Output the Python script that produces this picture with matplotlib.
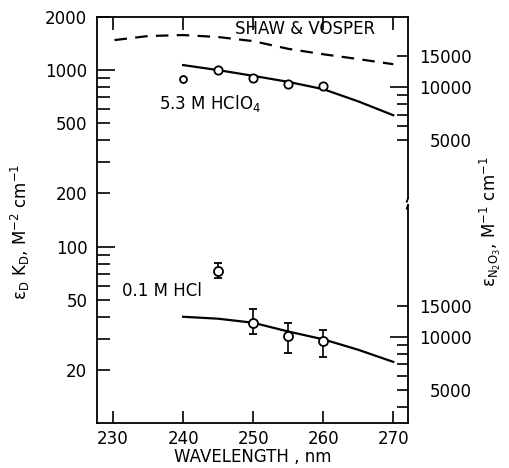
import matplotlib
matplotlib.use("Agg")
import matplotlib.pyplot as plt
from matplotlib.ticker import FixedLocator, FixedFormatter

plt.rcParams['font.family'] = ['DejaVu Sans']
plt.rcParams['mathtext.default'] = 'regular'
plt.rcParams['lines.scale_dashes'] = False

# ---- data ----
shaw_wl = [230.2, 235, 240, 245, 250, 255, 260, 265, 270]
shaw_val = [1480, 1560, 1580, 1540, 1460, 1320, 1230, 1155, 1080]

hclo4_fit_wl = [240, 245, 250, 255, 260, 265, 270]
hclo4_fit_val = [1068, 1000, 928, 858, 780, 665, 555]
hclo4_pt_wl = [245, 250, 255, 260]
hclo4_pt_val = [1000, 900, 835, 810]
hclo4_extra_wl = [240]
hclo4_extra_val = [890]

hcl_fit_wl = [240, 245, 250, 255, 260, 265, 270]
hcl_fit_val = [40.0, 39.0, 37.0, 33.0, 29.8, 26.0, 22.2]
hcl_pt_wl = [245, 250, 255, 260]
hcl_pt_val = [73, 37, 31, 29.2]
hcl_err_lo = [66, 32, 25, 23.7]
hcl_err_hi = [81, 44, 37, 33.8]

x_ticks = [230, 240, 250, 260, 270]
left_major = [100, 1000]
left_minor = [20, 30, 40, 50, 60, 70, 80, 90, 200, 300, 400, 500, 600, 700, 800, 900, 2000]
left_minor_labels = {20: '20', 50: '50', 200: '200', 500: '500', 2000: '2000'}

upper_factor = 12.5
lower_factor = 325.0
upper_major = [10000]
upper_minor = [5000, 6000, 7000, 8000, 9000, 15000]
lower_major = [10000]
lower_minor = [4000, 5000, 6000, 7000, 8000, 9000, 15000]
right_minor_labels = {5000: '5000', 15000: '15000'}

fs = 12
fig = plt.figure(figsize=(5.09, 4.68), dpi=100)
ax = fig.add_axes([97/509, 1-423/468, (408-97)/509, (423-17)/468])
ax.set_yscale('log')
ax.set_xlim(227.7, 272.1)
ax.set_ylim(10, 2000)

lw = 1.6
ax.plot(shaw_wl, shaw_val, color='black', lw=lw, dashes=(9, 6))
ax.plot(hclo4_fit_wl, hclo4_fit_val, color='black', lw=lw)
ax.plot(hclo4_pt_wl, hclo4_pt_val, 'o', mfc='white', mec='black', ms=6, mew=1.3)
ax.plot(hclo4_extra_wl, hclo4_extra_val, 'o', mfc='white', mec='black', ms=5, mew=1.3)
ax.plot(hcl_fit_wl, hcl_fit_val, color='black', lw=lw)
yerr = [[v - lo for v, lo in zip(hcl_pt_val, hcl_err_lo)],
        [hi - v for v, hi in zip(hcl_pt_val, hcl_err_hi)]]
ax.errorbar(hcl_pt_wl, hcl_pt_val, yerr=yerr, fmt='o', mfc='white', mec='black',
            ms=6.5, mew=1.3, ecolor='black', elinewidth=1.2, capsize=3, capthick=1.2, zorder=3)

# text labels
ax.text(257.4, 1710, 'SHAW & VOSPER', fontsize=fs, ha='center', va='center')
ax.text(243.8, 650, '5.3 M HClO$_4$', fontsize=fs, ha='center', va='center')
ax.text(236.9, 56, '0.1 M HCl', fontsize=fs, ha='center', va='center')

# x axis
ax.set_xticks(x_ticks)
ax.tick_params(axis='x', which='major', direction='in', length=9, width=1.2,
               top=True, labelsize=fs, pad=5)
ax.set_xlabel('WAVELENGTH , nm', fontsize=fs, labelpad=0)

# left y axis
ax.yaxis.set_major_locator(FixedLocator(left_major))
ax.yaxis.set_major_formatter(FixedFormatter([str(v) for v in left_major]))
ax.yaxis.set_minor_locator(FixedLocator(left_minor))
ax.yaxis.set_minor_formatter(FixedFormatter([left_minor_labels.get(v, '') for v in left_minor]))
ax.tick_params(axis='y', which='major', direction='in', length=13, width=1.2,
               right=False, labelsize=fs, pad=7)
ax.tick_params(axis='y', which='minor', direction='in', length=9, width=1.2,
               right=False, labelsize=fs, pad=7)

for s in ['left', 'top', 'bottom']:
    ax.spines[s].set_linewidth(1.3)
ax.spines['right'].set_visible(False)

# broken right spine
kw = dict(transform=ax.transAxes, color='black', lw=1.3, clip_on=False)
ax.plot([1, 1], [1, 0.553], **kw)
ax.plot([1, 0.996], [0.553, 0.545], **kw)
ax.plot([1, 1], [0, 0.537], **kw)
ax.plot([1, 0.996], [0.537, 0.528], **kw)

# right axes (two scales)
def make_right(factor, major, minor):
    tw = ax.twinx()
    tw.set_yscale('log')
    tw.set_ylim(10 * factor, 2000 * factor)
    for s in tw.spines.values():
        s.set_visible(False)
    tw.yaxis.set_major_locator(FixedLocator(major))
    tw.yaxis.set_major_formatter(FixedFormatter([str(v) for v in major]))
    tw.yaxis.set_minor_locator(FixedLocator(minor))
    tw.yaxis.set_minor_formatter(FixedFormatter([right_minor_labels.get(v, '') for v in minor]))
    tw.tick_params(axis='y', which='major', direction='in', length=13, width=1.2,
                   labelsize=fs, pad=46)
    tw.tick_params(axis='y', which='minor', direction='in', length=8, width=1.2,
                   labelsize=fs, pad=46)
    for lab in tw.get_yticklabels(which='both'):
        lab.set_ha('right')
    return tw

make_right(upper_factor, upper_major, upper_minor)
make_right(lower_factor, lower_major, lower_minor)

fig.text(20/509, 1-232/468, r'$\epsilon_D\ K_D$, M$^{-2}$ cm$^{-1}$', rotation=90,
         fontsize=fs, ha='center', va='center')
fig.text(490/509, 1-222/468, r'$\epsilon_{N_2O_3}$, M$^{-1}$ cm$^{-1}$', rotation=90,
         fontsize=fs, ha='center', va='center')

fig.savefig('out.png', dpi=100)
